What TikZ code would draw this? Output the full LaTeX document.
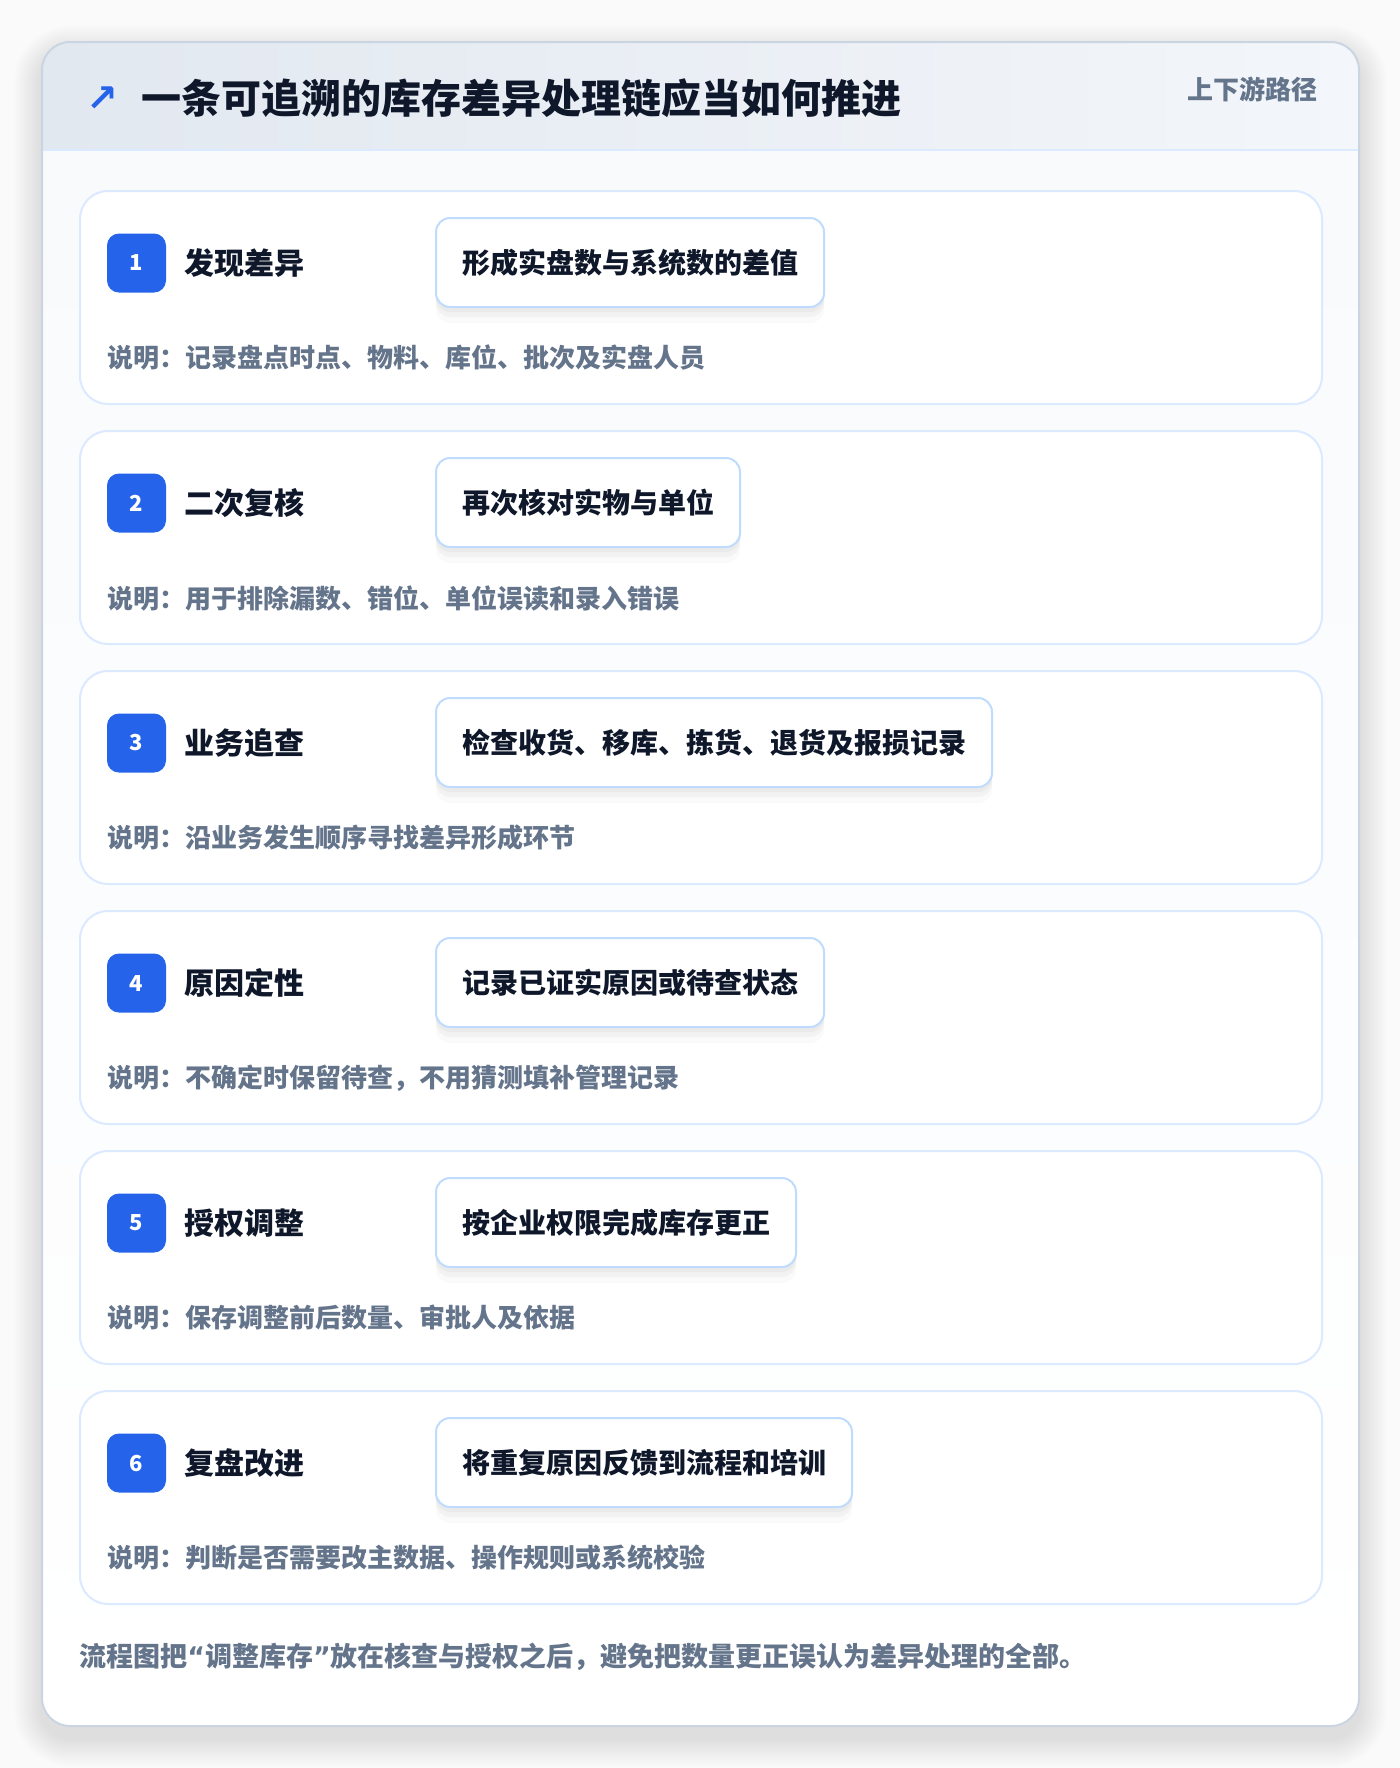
\documentclass[tikz,border=0pt]{standalone}
\usepackage{fontspec}
\setmainfont{Noto Sans CJK SC}
\newfontfamily\symfont{DejaVu Sans}
\usetikzlibrary{positioning,calc,shadows}
\definecolor{ink}{HTML}{0F172A}
\definecolor{muted}{HTML}{64748B}
\definecolor{badgeblue}{HTML}{2563EB}
\definecolor{pillline}{HTML}{BFDBFE}
\definecolor{cardline}{HTML}{DBEAFE}
\definecolor{shellline}{HTML}{CBD5E1}
\definecolor{headA}{HTML}{E2E8F0}
\definecolor{headB}{HTML}{F3F6FA}
\definecolor{bodybg}{HTML}{F8FAFC}
\definecolor{pagebg}{HTML}{FAFAFB}
\tikzset{
  stepcard/.style={draw=cardline, line width=1pt, fill=white, rounded corners=14pt, anchor=north west, minimum width=621pt, minimum height=106.5pt},
  badge/.style={fill=badgeblue, rounded corners=6pt, minimum size=29.5pt, inner sep=0pt, text=white, font=\bfseries\fontsize{11}{11}\selectfont},
  steptitle/.style={anchor=west, inner sep=0pt, text=ink, font=\bfseries\fontsize{15}{15}\selectfont},
  pill/.style={anchor=west, draw=pillline, line width=1pt, fill=white, rounded corners=7pt, minimum height=44.5pt, inner xsep=13pt, text=ink, font=\bfseries\fontsize{14}{14}\selectfont,
    drop shadow={shadow xshift=0pt, shadow yshift=-8pt, opacity=0.02, fill=black},
    drop shadow={shadow xshift=0pt, shadow yshift=-5pt, opacity=0.03, fill=black},
    drop shadow={shadow xshift=0pt, shadow yshift=-2.5pt, opacity=0.03, fill=black}},
  note/.style={anchor=west, inner sep=0pt, text=muted, font=\bfseries\fontsize{13}{13}\selectfont},
}
\begin{document}
\begin{tikzpicture}[x=0.5pt, y=-0.5pt]
\useasboundingbox (0,0) rectangle (1400,1768);
\fill[pagebg] (0,0) rectangle (1400,1768);
% soft shadow of the outer card
\foreach \k in {1,...,14}
  \fill[black, opacity=0.007, rounded corners=14pt+\k pt] (42-2*\k,42-2*\k+12) rectangle (1359+2*\k,1726+2*\k+12);
\fill[white, rounded corners=14pt] (42,42) rectangle (1359,1726);
\begin{scope}
\clip[rounded corners=14pt] (42,42) rectangle (1359,1726);
\shade[top color=bodybg, bottom color=white] (42,150) rectangle (1359,1726);
\shade[left color=headA, right color=headB] (42,42) rectangle (1359,150);
\end{scope}
\draw[cardline, line width=1pt] (42,150) -- (1359,150);
\draw[shellline, line width=1pt, rounded corners=14pt] (42,42) rectangle (1359,1726);
% header
\node[text=badgeblue, font=\symfont\bfseries\fontsize{19}{19}\selectfont, inner sep=0pt] (icon) at (102,99) {↗};
\node[anchor=west, inner sep=0pt, text=ink, font=\bfseries\fontsize{20}{20}\selectfont] (heading) at (141,98) {一条可追溯的库存差异处理链应当如何推进};
\node[anchor=east, inner sep=0pt, text=muted, font=\bfseries\fontsize{13}{13}\selectfont] (tag) at (1318,89) {上下游路径};
% steps
\foreach \i/\ttl/\act/\desc in {
  1/发现差异/形成实盘数与系统数的差值/说明：记录盘点时点、物料、库位、批次及实盘人员,
  2/二次复核/再次核对实物与单位/说明：用于排除漏数、错位、单位误读和录入错误,
  3/业务追查/检查收货、移库、拣货、退货及报损记录/说明：沿业务发生顺序寻找差异形成环节,
  4/原因定性/记录已证实原因或待查状态/说明：不确定时保留待查，不用猜测填补管理记录,
  5/授权调整/按企业权限完成库存更正/说明：保存调整前后数量、审批人及依据,
  6/复盘改进/将重复原因反馈到流程和培训/说明：判断是否需要改主数据、操作规则或系统校验} {
  \pgfmathsetmacro\cardtop{190+240*(\i-1)}
  \node[stepcard] (card\i) at (79,\cardtop) {};
  \node[badge] (badge\i) at ($(card\i.north west)+(57.5,73)$) {\i};
  \node[steptitle, right=9pt of badge\i] (title\i) {\ttl};
  \node[pill] (act\i) at ($(card\i.north west)+(356,72.5)$) {\act};
  \node[note] (note\i) at ($(card\i.north west)+(28,168)$) {\desc};
}
\node[anchor=west, inner sep=0pt, text=muted, font=\bfseries\fontsize{13.5}{13.5}\selectfont] (footer) at (79,1657) {流程图把{\symfont “}调整库存{\symfont ”}放在核查与授权之后，避免把数量更正误认为差异处理的全部。};
\end{tikzpicture}
\end{document}
